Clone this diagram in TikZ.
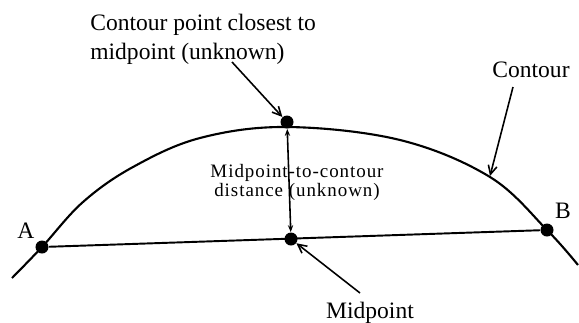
\documentclass[tikz,border=0pt]{standalone}
\usepackage{fontspec}
\setmainfont{Liberation Serif}
\newfontfamily\spacedserif[LetterSpace=5]{Liberation Serif}
\usetikzlibrary{arrows.meta}

\begin{document}
\begin{tikzpicture}[x = 0.02cm, y = -0.02cm,
		dot/.style = {circle, fill = black, inner sep = 0pt, minimum size = 7.4pt},
		lbl/.style = {font = \fontsize{13.4}{16.5}\selectfont, inner sep = 0pt},
		pointer/.style = {line width = 0.9pt, -{Straight Barb[length = 5pt, width = 5pt]}}]
	\useasboundingbox (0, 0) rectangle (579, 322);
	% points on the contour and the chord
	\node[dot] (A) at (42, 247) {};
	\node[dot] (B) at (547, 230) {};
	\node[dot] (top) at (287, 122) {};
	\node[dot] (mid) at (291, 239) {};
	\node[lbl] (alabel) at (26, 231) {A};
	\node[lbl] (blabel) at (563, 211) {B};
	% contour and chord
	\draw[line width = 1.2pt] plot[smooth, tension = 0.6] coordinates {(12, 278) (A) (83, 202) (133, 167) (200, 138) (287, 127) (400, 140) (490, 177) (B) (578, 265)};
	\draw[line width = 1.1pt] (A) -- (B);
	\draw[line width = 0.9pt, {Stealth[length = 4pt, width = 3pt]}-{Stealth[length = 4pt, width = 3pt]}] (top) -- (mid);
	\node[font = \spacedserif\fontsize{10.8}{9.4}\selectfont, align = center, inner sep = 0pt] (distlbl) at (297, 182) {Midpoint-to-contour\\distance (unknown)};
	% labels with pointers
	\node[lbl, align = left, anchor = north west] (closelbl) at (90, 14) {Contour point closest to\\midpoint (unknown)};
	\node[lbl] (contlbl) at (531, 70) {Contour};
	\node[lbl] (midlbl) at (370, 313) {Midpoint};
	\coordinate (closetail) at (232, 62);
	\coordinate (conttail) at (513, 87);
	\coordinate (conttip) at (490, 176);
	\coordinate (midtail) at (360, 293);
	\draw[pointer] (closetail) -- (top);
	\draw[pointer] (conttail) -- (conttip);
	\draw[pointer] (midtail) -- (mid);
\end{tikzpicture}
\end{document}
